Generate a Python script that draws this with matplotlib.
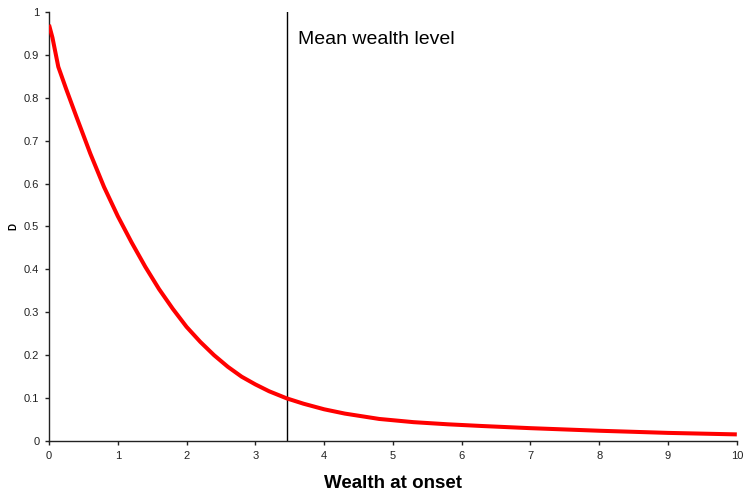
import matplotlib
matplotlib.use("Agg")
import matplotlib.pyplot as plt

plt.rcParams['font.family'] = ['Liberation Sans', 'DejaVu Sans']

wealth = [0, 0.05, 0.135, 0.25, 0.4, 0.6, 0.8, 1.0, 1.2, 1.4, 1.6, 1.8, 2.0, 2.2, 2.4,
          2.6, 2.8, 3.0, 3.2, 3.455, 3.7, 4.0, 4.3, 4.8, 5.3, 5.8, 6.3, 7, 8, 9, 10]
D = [0.970, 0.940, 0.872, 0.820, 0.755, 0.670, 0.592, 0.524, 0.463, 0.406, 0.354, 0.308,
     0.266, 0.231, 0.200, 0.173, 0.150, 0.132, 0.116, 0.0995, 0.087, 0.074, 0.064, 0.0515,
     0.044, 0.039, 0.035, 0.030, 0.024, 0.019, 0.0155]
mean_wealth = 3.455
xticks = list(range(0, 11))
yticks = [0, 0.1, 0.2, 0.3, 0.4, 0.5, 0.6, 0.7, 0.8, 0.9, 1]
ytick_labels = ['0', '0.1', '0.2', '0.3', '0.4', '0.5', '0.6', '0.7', '0.8', '0.9', '1']

fig = plt.figure(figsize=(7.46, 4.95), dpi=100)
ax = fig.add_axes([0.0657, 0.109, 0.922, 0.867])

ax.plot(wealth, D, color='#ff0000', lw=2.9, solid_joinstyle='round',
        solid_capstyle='butt', zorder=3)
ax.axvline(mean_wealth, color='black', lw=1.0, zorder=2)
ax.text(mean_wealth + 0.16, 0.935, 'Mean wealth level', fontsize=14, ha='left', va='center')

ax.set_xlim(0, 10)
ax.set_ylim(0, 1)
ax.set_xticks(xticks)
ax.set_xticklabels([str(t) for t in xticks])
ax.set_yticks(yticks)
ax.set_yticklabels(ytick_labels)
for s in ['top', 'right']:
    ax.spines[s].set_visible(False)
for s in ['left', 'bottom']:
    ax.spines[s].set_color('#222222')
    ax.spines[s].set_linewidth(1.0)
ax.tick_params(axis='both', direction='out', length=3, width=1, labelsize=8,
               colors='#222222', pad=4)
ax.set_xlabel('Wealth at onset', fontsize=13.5, fontweight='bold', labelpad=10)
ax.set_ylabel('D', fontsize=7, fontweight='bold', labelpad=4)

fig.savefig('out.png', dpi=100)
